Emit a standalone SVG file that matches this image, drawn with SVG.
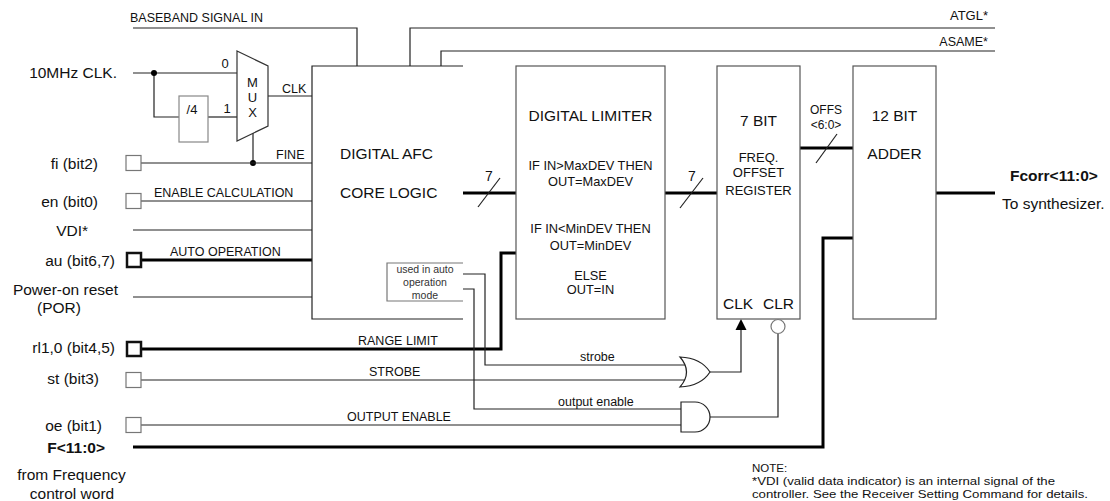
<svg xmlns="http://www.w3.org/2000/svg" width="1110" height="501" viewBox="0 0 1110 501">
<style>
text{font-family:"Liberation Sans",Arial,sans-serif;fill:#111}
.lbl{font-size:15.5px}
.sig{font-size:12.5px}
.blk{font-size:15.5px}
.sm{font-size:12.8px}
.tiny{font-size:10.5px;fill:#333}
.note{font-size:11.5px}
.b{font-weight:bold}
.mid{text-anchor:middle}
.end{text-anchor:end}
.ln{fill:none;stroke:#222;stroke-width:1.2}
.bus{fill:none;stroke:#000;stroke-width:3}
.box{fill:#fff;stroke:#555;stroke-width:1.2}
.pin{fill:#fff;stroke:#777;stroke-width:1.2}
.pinb{fill:#fff;stroke:#111;stroke-width:2.5}
.dot{fill:#000}
</style>
<rect width="1110" height="501" fill="#fff"/>

<g id="connectors">
  <path class="ln" d="M133,28 H357 V66"/>
  <path class="ln" d="M410,66 V28 H995"/>
  <path class="ln" d="M441,66 V51 H995"/>
  <path class="ln" d="M133,73 H237"/>
  <path class="ln" d="M154,73 V117 H179"/>
  <path class="ln" d="M208,117 H237"/>
  <circle class="dot" cx="154" cy="73" r="3"/>
  <path class="ln" d="M268,96 H312"/>
  <path class="ln" d="M253,133 V163"/>
  <circle class="dot" cx="253" cy="163" r="3"/>
  <path class="ln" d="M141,163 H312"/>
  <path class="ln" d="M141,201 H312"/>
  <path class="ln" d="M133,230 H312"/>
  <path class="bus" d="M141,260 H312"/>
  <path class="ln" d="M133,297 H312"/>
  <path class="bus" d="M141,349 H501 V253 H516"/>
  <path class="ln" d="M141,380 H686"/>
  <path class="ln" d="M463,274 H485 V365 H686"/>
  <path class="ln" d="M463,289 H474 V409 H681"/>
  <path class="ln" d="M141,425 H681"/>
  <path class="ln" d="M710,372 H741 V330"/>
  <polygon points="741,319 735.5,330 746.5,330" fill="#000"/>
  <path class="ln" d="M778,334 V417 H710"/>
  <path class="bus" d="M133,447 H823 V238 H853"/>
  <path class="bus" d="M463,193 H516"/>
  <path class="ln" d="M478,207 L500,178"/>
  <text class="sig mid" x="489" y="181" style="font-size:14px">7</text>
  <path class="bus" d="M665,193 H717"/>
  <path class="ln" d="M680,208 L703,178"/>
  <text class="sig mid" x="692" y="181" style="font-size:14px">7</text>
  <path class="bus" d="M800,148 H853"/>
  <path class="ln" d="M816,163 L837,134"/>
  <path class="bus" d="M936,193 H995"/>
  <text class="sig" x="130" y="21.5">BASEBAND SIGNAL IN</text>
  <text class="sig end" x="988" y="20" style="font-size:13px">ATGL*</text>
  <text class="sig end" x="988" y="46">ASAME*</text>
  <text class="sig" x="282" y="93">CLK</text>
  <text class="sig" x="276" y="159">FINE</text>
  <text class="sig" x="154" y="196.5">ENABLE CALCULATION</text>
  <text class="sig" x="170" y="255.5">AUTO OPERATION</text>
  <text class="sig" x="358" y="345">RANGE LIMIT</text>
  <text class="sig" x="369" y="375.5">STROBE</text>
  <text class="sig" x="347" y="421">OUTPUT ENABLE</text>
  <text class="sig" x="580" y="361">strobe</text>
  <text class="sig" x="558" y="406">output enable</text>
  <text class="sig mid" x="826" y="114" style="font-size:12px">OFFS</text>
  <text class="sig mid" x="826" y="129" style="font-size:12px">&lt;6:0&gt;</text>
</g>

<g id="mux">
  <polygon class="box" points="237,51 268,66 268,126 237,141" style="stroke:#333"/>
  <text class="sig mid" x="252.5" y="87" style="font-size:13px">M</text>
  <text class="sig mid" x="252.5" y="102" style="font-size:13px">U</text>
  <text class="sig mid" x="252.5" y="117" style="font-size:13px">X</text>
  <text class="sig mid" x="225" y="68" style="font-size:13px">0</text>
  <text class="sig mid" x="227" y="113" style="font-size:13px">1</text>
</g>

<g id="div4">
  <rect class="box" x="179" y="96" width="29" height="46" style="stroke:#888"/>
  <text class="sig mid" x="192" y="114" style="font-size:13px">/4</text>
</g>

<g id="afc">
  <path d="M463,66 H312 V319 H463" fill="#fff" stroke="#222" stroke-width="1.2"/>
  <text class="blk" x="340" y="158.5">DIGITAL AFC</text>
  <text class="blk" x="340" y="197.5">CORE LOGIC</text>
</g>

<g id="autobox">
  <path d="M463,263 H387 V301 H463" fill="none" stroke="#777" stroke-width="1.2"/>
  <text class="tiny mid" x="425" y="273">used in auto</text>
  <text class="tiny mid" x="425" y="285.5">operation</text>
  <text class="tiny mid" x="425" y="299">mode</text>
</g>

<g id="limiter">
  <rect class="box" x="516" y="66" width="149" height="253"/>
  <text class="blk mid" x="590.5" y="120.5">DIGITAL LIMITER</text>
  <text class="sm mid" x="590.5" y="169.5">IF IN&gt;MaxDEV THEN</text>
  <text class="sm mid" x="590.5" y="186">OUT=MaxDEV</text>
  <text class="sm mid" x="590.5" y="232.5">IF IN&lt;MinDEV THEN</text>
  <text class="sm mid" x="590.5" y="249.5">OUT=MinDEV</text>
  <text class="sm mid" x="590.5" y="279.5">ELSE</text>
  <text class="sm mid" x="590.5" y="293.5">OUT=IN</text>
</g>

<g id="register">
  <rect class="box" x="717" y="66" width="83" height="253"/>
  <text class="blk mid" x="758.5" y="125.5">7 BIT</text>
  <text class="sm mid" x="758.5" y="161.5" style="font-size:13px">FREQ.</text>
  <text class="sm mid" x="758.5" y="176.5" style="font-size:13px">OFFSET</text>
  <text class="sm mid" x="758.5" y="194.5" style="font-size:13px">REGISTER</text>
  <text class="blk" x="723" y="308.5">CLK</text>
  <text class="blk" x="763" y="308.5">CLR</text>
  <circle cx="778" cy="326.5" r="7" fill="#fff" stroke="#777" stroke-width="1.2"/>
</g>

<g id="adder">
  <rect class="box" x="853" y="66" width="83" height="253"/>
  <text class="blk mid" x="894.5" y="120.5">12 BIT</text>
  <text class="blk mid" x="894.5" y="158.5">ADDER</text>
</g>

<g id="or-gate">
  <path d="M680,357 Q693,372 680,387 Q701,386 710,372 Q701,358 680,357 Z" fill="#fff" stroke="#222" stroke-width="1.2"/>
</g>

<g id="and-gate">
  <path d="M681,402 H695 A15,15 0 0 1 695,432 H681 Z" fill="#fff" stroke="#222" stroke-width="1.2"/>
</g>

<g id="inputs">
  <text class="lbl end" x="117" y="77.5">10MHz CLK.</text>
  <rect class="pin" x="126" y="155.5" width="15" height="15"/>
  <text class="lbl end" x="98" y="168.5">fi (bit2)</text>
  <rect class="pin" x="126" y="193.5" width="15" height="15"/>
  <text class="lbl end" x="98" y="206.5">en (bit0)</text>
  <text class="lbl end" x="88" y="235.5">VDI*</text>
  <rect class="pinb" x="127" y="253" width="14" height="14"/>
  <text class="lbl end" x="115" y="265.5">au (bit6,7)</text>
  <text class="lbl end" x="118" y="294.5">Power-on reset</text>
  <text class="lbl mid" x="59" y="312.5">(POR)</text>
  <rect class="pinb" x="127" y="342" width="14" height="14"/>
  <text class="lbl end" x="115" y="352.5">rl1,0 (bit4,5)</text>
  <rect class="pin" x="126" y="372.5" width="15" height="15"/>
  <text class="lbl end" x="99" y="383.5">st (bit3)</text>
  <rect class="pin" x="126" y="417.5" width="15" height="15"/>
  <text class="lbl end" x="102" y="430.5">oe (bit1)</text>
  <text class="lbl end b" x="105" y="452.5">F&lt;11:0&gt;</text>
  <text class="lbl mid" x="71.5" y="479.5">from Frequency</text>
  <text class="lbl mid" x="72" y="498.5">control word</text>
</g>

<g id="output">
  <text class="lbl b" x="1010" y="180.5">Fcorr&lt;11:0&gt;</text>
  <text class="lbl" x="1002" y="208.5">To synthesizer.</text>
</g>

<g id="note">
  <text class="note" x="752" y="472">NOTE:</text>
  <text class="note" x="752" y="485" textLength="303" lengthAdjust="spacingAndGlyphs">*VDI (valid data indicator) is an internal signal of the</text>
  <text class="note" x="752" y="497.5" textLength="336" lengthAdjust="spacingAndGlyphs">controller. See the Receiver Setting Command for details.</text>
</g>
</svg>
